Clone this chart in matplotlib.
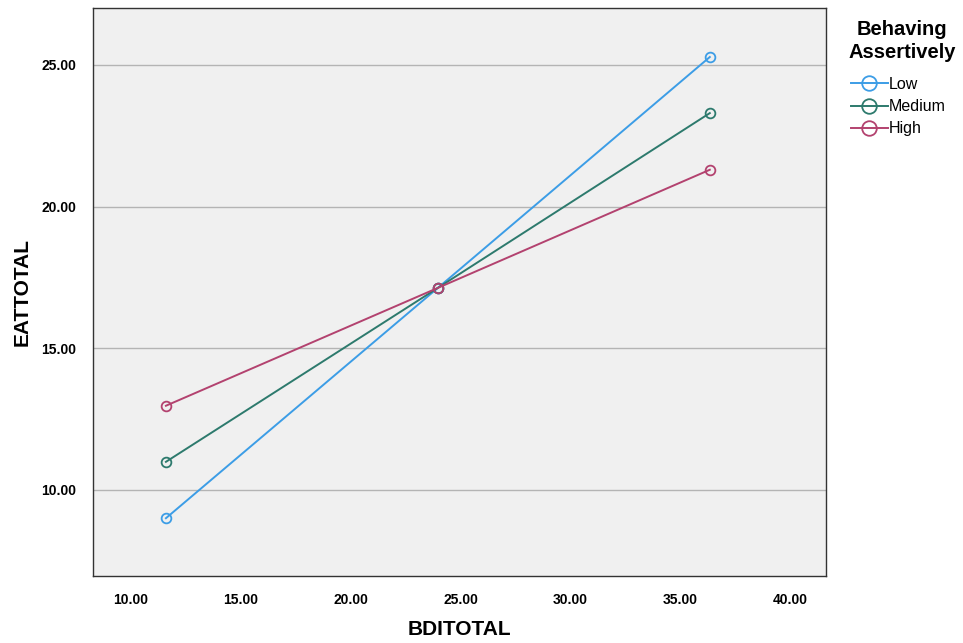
import numpy as np
import matplotlib.pyplot as plt

plt.rcParams['font.family'] = ['Liberation Sans', 'DejaVu Sans']

# predictor values (BDITOTAL) and predicted EATTOTAL for each moderator level
bdi = [11.59, 23.97, 36.35]
groups = ['Low', 'Medium', 'High']
eat_low = [9.00, 17.13, 25.28]
eat_medium = [10.99, 17.13, 23.30]
eat_high = [12.97, 17.13, 21.30]
colors = ['#3c9de6', '#2d7a6d', '#b3426f']

fig = plt.figure(figsize=(9.63, 6.43), dpi=100)
ax = fig.add_axes([93 / 963, 67 / 643, 733 / 963, 568 / 643])
ax.set_facecolor('#f0f0f0')

for name, vals, c in zip(groups, [eat_low, eat_medium, eat_high], colors):
    ax.plot(bdi, vals, color=c, lw=1.4, marker='o', ms=7, mfc='none',
            mec=c, mew=1.3, label=name)

ax.set_xlim(8.27, 41.64)
ax.set_ylim(6.96, 27.01)
ax.set_xticks(np.arange(10, 41, 5))
ax.set_yticks([10, 15, 20, 25])
ax.xaxis.set_major_formatter(lambda v, p: f'{v:.2f}')
ax.yaxis.set_major_formatter(lambda v, p: f'{v:.2f}')
ax.tick_params(length=0, labelsize=10, pad=12)
for lab in ax.get_xticklabels() + ax.get_yticklabels():
    lab.set_fontweight('bold')
    lab.set_family(['Liberation Sans Narrow', 'Liberation Sans', 'DejaVu Sans'])
ax.yaxis.grid(True, color='#b4b4b4', lw=1)
ax.set_axisbelow(True)
for s in ax.spines.values():
    s.set_color('#333333')
    s.set_linewidth(1)

ax.set_xlabel('BDITOTAL', fontsize=15, fontweight='bold', va='center')
ax.set_ylabel('EATTOTAL', fontsize=15, fontweight='bold', va='center')
ax.xaxis.set_label_coords(0.5, -0.095)
ax.yaxis.set_label_coords(-0.097, 0.5)

# legend title drawn on its own so it can sit a little above the entries
fig.text(902 / 963, 1 - 41 / 643, 'Behaving\nAssertively', ha='center',
         va='center', fontsize=14.5, fontweight='bold', linespacing=1.25,
         multialignment='center')
leg = fig.legend(loc='upper left', bbox_to_anchor=(851 / 963, 1 - 77 / 643),
                 frameon=False, fontsize=11.5, handlelength=2.3,
                 handletextpad=0.05, labelspacing=0.45, borderaxespad=0,
                 borderpad=0, markerscale=1.5)

fig.savefig('out.png', dpi=100)
